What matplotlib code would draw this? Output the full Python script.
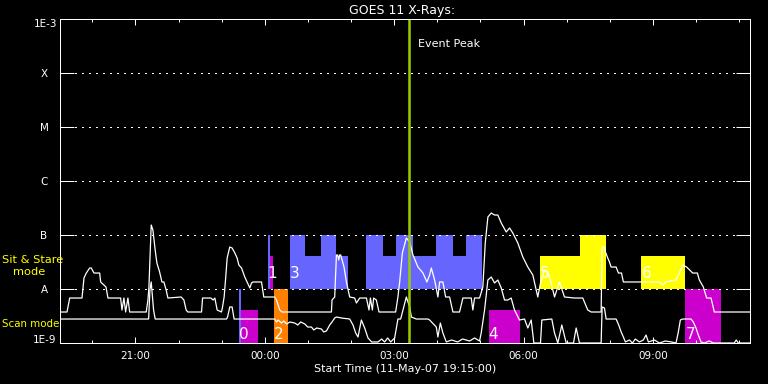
import numpy as np
import matplotlib
matplotlib.use('Agg')
import matplotlib.pyplot as plt
from matplotlib.patches import Rectangle
from matplotlib.transforms import blended_transform_factory

# ---------------- data ----------------
level_names = ['A', 'B', 'C', 'M', 'X']
level_flux = [1e-8, 1e-7, 1e-6, 1e-5, 1e-4]

# time in hours since 00:00 on 11-May-07 (values > 24 are the next day)
long_t = [19.25, 19.412, 19.475, 19.760, 19.806, 19.860, 19.938, 19.975, 20.038, 20.169,
          20.193, 20.316, 20.362, 20.656, 20.686, 20.732, 20.772, 20.825, 20.865, 21.249,
          21.289, 21.312, 21.365, 21.404, 21.457, 21.497, 21.560, 21.613, 21.659, 21.712,
          21.752, 22.060, 22.123, 22.175, 22.215, 22.532, 22.556, 22.748, 22.801, 22.841,
          22.894, 22.995, 23.019, 23.056, 23.088, 23.126, 23.187, 23.241, 23.304, 23.357,
          23.397, 23.459, 23.535, 23.589, 23.652, 23.690, 23.727, 23.923, 23.959, 23.975,
          24.230, 24.270, 24.346, 24.400, 25.544, 25.558, 25.620, 25.660, 25.690, 25.712,
          25.736, 25.759, 25.836, 25.892, 25.967, 26.083, 26.123, 26.200, 26.355, 26.415,
          26.448, 26.493, 26.523, 26.586, 26.647, 27.033, 27.086, 27.126, 27.189, 27.281,
          27.358, 27.435, 27.550, 27.666, 27.758, 27.821, 27.860, 27.937, 28.013, 28.052,
          28.129, 28.192, 28.284, 28.361, 28.515, 28.592, 28.786, 28.823, 28.863, 28.979,
          29.055, 29.111, 29.172, 29.250, 29.326, 29.403, 29.482, 29.597, 29.674, 29.750,
          29.866, 29.982, 30.098, 30.214, 30.329, 30.392, 30.485, 30.561, 30.640, 30.717,
          30.832, 30.948, 31.180, 31.372, 31.488, 31.566, 31.798, 31.821, 31.875, 31.898,
          31.951, 31.991, 32.029, 32.145, 32.199, 32.269, 32.314, 33.148, 33.225, 33.287,
          33.535, 33.612, 33.688, 33.781, 33.920, 34.029, 34.075, 34.168, 34.245, 34.346,
          34.423, 35.25]
long_log = [-8.426, -8.426, -8.167, -8.167, -7.796, -7.704, -7.611, -7.611, -7.704, -7.704,
            -7.870, -7.963, -8.167, -8.167, -8.389, -8.167, -8.426, -8.167, -8.426, -8.426,
            -8.204, -7.963, -6.815, -6.907, -7.278, -7.519, -7.685, -7.870, -7.870, -8.019,
            -8.167, -8.148, -8.204, -8.389, -8.426, -8.426, -8.167, -8.167, -8.204, -8.167,
            -8.389, -8.426, -8.333, -8.148, -7.833, -7.426, -7.222, -7.241, -7.333, -7.426,
            -7.556, -7.611, -7.778, -7.870, -7.981, -7.889, -7.870, -7.870, -8.056, -8.148,
            -8.148, -8.204, -8.389, -8.426, -8.426, -8.204, -8.148, -7.370, -7.370, -7.463,
            -7.370, -7.370, -7.593, -7.870, -8.148, -8.167, -8.259, -8.167, -8.167, -8.389,
            -8.167, -8.389, -8.167, -8.204, -8.426, -8.426, -8.148, -7.870, -7.333, -7.056,
            -7.130, -7.370, -7.593, -7.704, -7.870, -7.741, -7.611, -7.833, -8.148, -7.870,
            -7.870, -8.148, -8.148, -8.426, -8.426, -8.167, -8.167, -8.389, -8.167, -8.167,
            -7.963, -7.148, -6.667, -6.593, -6.630, -6.630, -6.778, -6.944, -6.870, -6.963,
            -7.148, -7.407, -7.593, -7.741, -8.148, -7.889, -7.648, -7.685, -7.889, -8.148,
            -7.870, -8.148, -8.167, -8.167, -8.389, -8.426, -8.426, -7.222, -7.222, -7.315,
            -7.426, -7.500, -7.593, -7.593, -7.704, -7.704, -7.870, -7.870, -7.926, -7.870,
            -7.833, -7.704, -7.556, -7.593, -7.704, -7.704, -7.833, -7.963, -8.167, -8.167,
            -8.426, -8.426]

short_t = [19.25, 21.305, 21.335, 21.365, 21.420, 21.457, 23.112, 23.135, 23.187, 23.241,
           23.287, 24.230, 24.270, 24.310, 24.385, 24.438, 24.508, 24.578, 24.693, 24.763,
           24.833, 24.926, 24.995, 25.080, 25.134, 25.203, 25.312, 25.366, 25.428, 25.504,
           25.558, 25.620, 25.660, 25.775, 25.967, 26.044, 26.107, 26.160, 26.238, 26.315,
           26.392, 26.477, 26.623, 26.709, 26.778, 26.848, 26.918, 27.010, 27.086, 27.149,
           27.281, 27.358, 27.398, 27.513, 27.781, 27.821, 27.975, 28.013, 28.069, 28.129,
           28.208, 28.330, 28.470, 28.585, 28.747, 28.863, 28.979, 29.017, 29.095, 29.172,
           29.250, 29.326, 29.403, 29.482, 29.558, 29.635, 29.712, 29.789, 29.905, 30.021,
           30.098, 30.176, 30.238, 30.392, 30.423, 30.654, 30.717, 30.794, 30.886, 30.988,
           31.157, 31.219, 31.295, 31.798, 31.821, 31.875, 31.914, 32.145, 32.206, 32.262,
           32.314, 32.361, 32.454, 32.524, 32.592, 32.685, 32.777, 32.839, 32.894, 33.032,
           33.148, 33.287, 33.427, 33.535, 33.588, 33.635, 33.688, 33.882, 33.935, 33.998,
           34.051, 34.114, 34.191, 34.306, 34.399, 34.886, 34.931, 34.978, 35.25]
short_log = [-8.556, -8.556, -8.019, -7.870, -8.389, -8.556, -8.556, -8.519, -8.333, -8.333,
             -8.556, -8.556, -8.611, -8.574, -8.630, -8.593, -8.648, -8.611, -8.630, -8.667,
             -8.611, -8.648, -8.704, -8.704, -8.759, -8.722, -8.741, -8.796, -8.778, -8.667,
             -8.611, -8.537, -8.519, -8.537, -8.556, -8.667, -8.815, -8.889, -8.574, -8.722,
             -8.907, -8.981, -8.981, -8.926, -8.981, -8.907, -8.981, -8.907, -8.556, -8.556,
             -8.148, -8.333, -8.519, -8.556, -8.556, -8.574, -8.704, -8.889, -8.630, -8.815,
             -8.981, -8.944, -8.981, -8.926, -8.963, -8.907, -8.963, -8.815, -8.389, -7.833,
             -7.778, -7.889, -7.833, -7.981, -8.204, -8.204, -8.167, -8.389, -8.574, -8.556,
             -8.722, -8.574, -9.0, -9.0, -8.574, -8.556, -8.815, -9.0, -8.667, -9.0,
             -9.0, -8.722, -9.0, -9.0, -8.333, -8.352, -8.556, -8.556, -8.667, -8.796,
             -8.889, -8.981, -8.944, -9.0, -8.926, -8.981, -8.944, -8.852, -8.981, -8.944,
             -9.0, -8.963, -8.981, -9.0, -8.796, -8.574, -8.556, -8.556, -8.611, -8.722,
             -8.852, -8.981, -9.0, -8.963, -9.0, -9.0, -8.944, -9.0, -9.0]

# observation blocks: start / end (hours), bottom / top (log10 flux), kind
block_start = [23.396, 23.443, 24.068, 24.121, 24.207,
               24.578, 24.941, 25.296, 25.660, 26.354, 26.739, 27.049, 27.434, 27.976, 28.361, 28.671,
               29.187, 30.369, 31.319, 32.732, 33.751]
block_end = [23.443, 23.830, 24.121, 24.184, 24.548,
             24.941, 25.296, 25.660, 25.928, 26.739, 27.049, 27.434, 27.976, 28.361, 28.671, 29.032,
             29.922, 31.319, 31.914, 33.744, 34.578]
block_bottom = [-9, -9, -8, -8, -9,
                -8, -8, -8, -8, -8, -8, -8, -8, -8, -8, -8,
                -9, -8, -8, -8, -9]
block_top = [-8, -8.389, -7, -7.389, -8,
             -7, -7.389, -7, -7.389, -7, -7.389, -7, -7.389, -7, -7.389, -7,
             -8.389, -7.389, -7, -7.389, -8]
block_kind = ['blue', 'magenta', 'blue', 'magenta', 'orange',
              'blue', 'blue', 'blue', 'blue', 'blue', 'blue', 'blue', 'blue', 'blue', 'blue', 'blue',
              'magenta', 'yellow', 'yellow', 'yellow', 'magenta']

obs_labels = ['0', '1', '2', '3', '4', '5', '6', '7']
obs_label_t = [23.396, 24.068, 24.207, 24.578, 29.187, 30.369, 32.732, 33.751]
obs_label_mode = ['scan', 'stare', 'scan', 'stare', 'scan', 'stare', 'stare', 'scan']

event_peak = 27.334

x_major = [21, 24, 27, 30, 33]
x_major_labels = ['21:00', '00:00', '03:00', '06:00', '09:00']
x_minor = list(range(20, 36))

# ---------------- style ----------------
kind_color = {'blue': '#6666ff', 'magenta': '#cc00cc', 'orange': '#ff8000', 'yellow': '#ffff00'}
PX = 0.72  # one pixel in points at 100 dpi

fig = plt.figure(figsize=(7.68, 3.84), dpi=100, facecolor='black')
ax = fig.add_axes([60 / 768, 41 / 384, 690 / 768, 324 / 384])
ax.set_facecolor('black')
ax.set_yscale('log')
ax.set_ylim(1e-9, 1e-3)
ax.set_xlim(19.25, 35.25)

for s, e, b, t, k in zip(block_start, block_end, block_bottom, block_top, block_kind):
    ax.add_patch(Rectangle((s, 10.0 ** b), e - s, 10.0 ** t - 10.0 ** b,
                           facecolor=kind_color[k], edgecolor='none', zorder=1,
                           antialiased=False))

for lv in level_flux:
    ax.axhline(lv, xmin=15 / 690, xmax=677 / 690, color='white', lw=PX,
               linestyle=(0, (1.4, 5.5)), zorder=2, antialiased=False)

ax.plot(long_t, 10.0 ** np.array(long_log), color='white', lw=0.9, zorder=3)
ax.plot(short_t, 10.0 ** np.array(short_log), color='white', lw=0.9, zorder=3)

ax.axvline(event_peak, color='#99cc00', lw=1.8, zorder=4)
ax.annotate('Event Peak', xy=(event_peak, (343 - 47) / 324), xycoords=('data', 'axes fraction'),
            xytext=(6.5, 0), textcoords='offset points', va='baseline', ha='left',
            color='white', fontsize=8)

for lab, t, m in zip(obs_labels, obs_label_t, obs_label_mode):
    y = 10 ** (-8.815) if m == 'scan' else 10 ** (-7.685)
    ax.text(t, y, lab, color='white', fontsize=11, ha='left', va='center_baseline', zorder=5)

# spines & ticks
for sp in ax.spines.values():
    sp.set_color('white')
    sp.set_linewidth(PX)
    sp.set_zorder(6)

ax.yaxis.set_major_locator(matplotlib.ticker.FixedLocator(level_flux))
ax.yaxis.set_minor_locator(matplotlib.ticker.NullLocator())
ax.tick_params(axis='y', which='major', direction='in', length=10, width=PX, color='white',
               left=True, right=True, labelleft=False, labelright=False)
ax.set_xticks(x_major)
ax.set_xticklabels(x_major_labels)
ax.set_xticks(x_minor, minor=True)
ax.tick_params(axis='x', which='major', direction='in', length=4.3, width=PX, color='white',
               top=True, bottom=True, labelcolor='white', labelsize=7.5, pad=5.5)
ax.tick_params(axis='x', which='minor', direction='in', length=2.2, width=PX, color='white',
               top=True, bottom=True)

trans = blended_transform_factory(ax.transAxes, ax.transData)
for name, lv in zip(level_names, level_flux):
    ax.text(-16 / 690, lv, name, transform=trans, ha='center', va='center_baseline',
            color='white', fontsize=7.5, clip_on=False)
ax.text(-3 / 690, 1e-3, '1E-3', transform=trans, ha='right', va='top', color='white',
        fontsize=7.5, clip_on=False)
ax.text(-4 / 690, 1e-9, '1E-9', transform=trans, ha='right', va='baseline', color='white',
        fontsize=7.5, clip_on=False)

fig.text(402 / 768, 1 - 14 / 384, 'GOES 11 X-Rays:', ha='center', va='baseline',
         color='white', fontsize=9)
fig.text(405 / 768, 1 - 371.5 / 384, 'Start Time (11-May-07 19:15:00)', ha='center',
         va='baseline', color='white', fontsize=8)

fig.text(2 / 768, 1 - 262.7 / 384, 'Sit & Stare', ha='left', va='baseline',
         color='#ffff00', fontsize=8.2)
fig.text(12.7 / 768, 1 - 275 / 384, 'mode', ha='left', va='baseline',
         color='#ffff00', fontsize=8.2)
fig.text(1.7 / 768, 1 - 327.3 / 384, 'Scan mode', ha='left', va='baseline',
         color='#ffff00', fontsize=7.4)

fig.savefig('out.png', dpi=100, facecolor='black')
